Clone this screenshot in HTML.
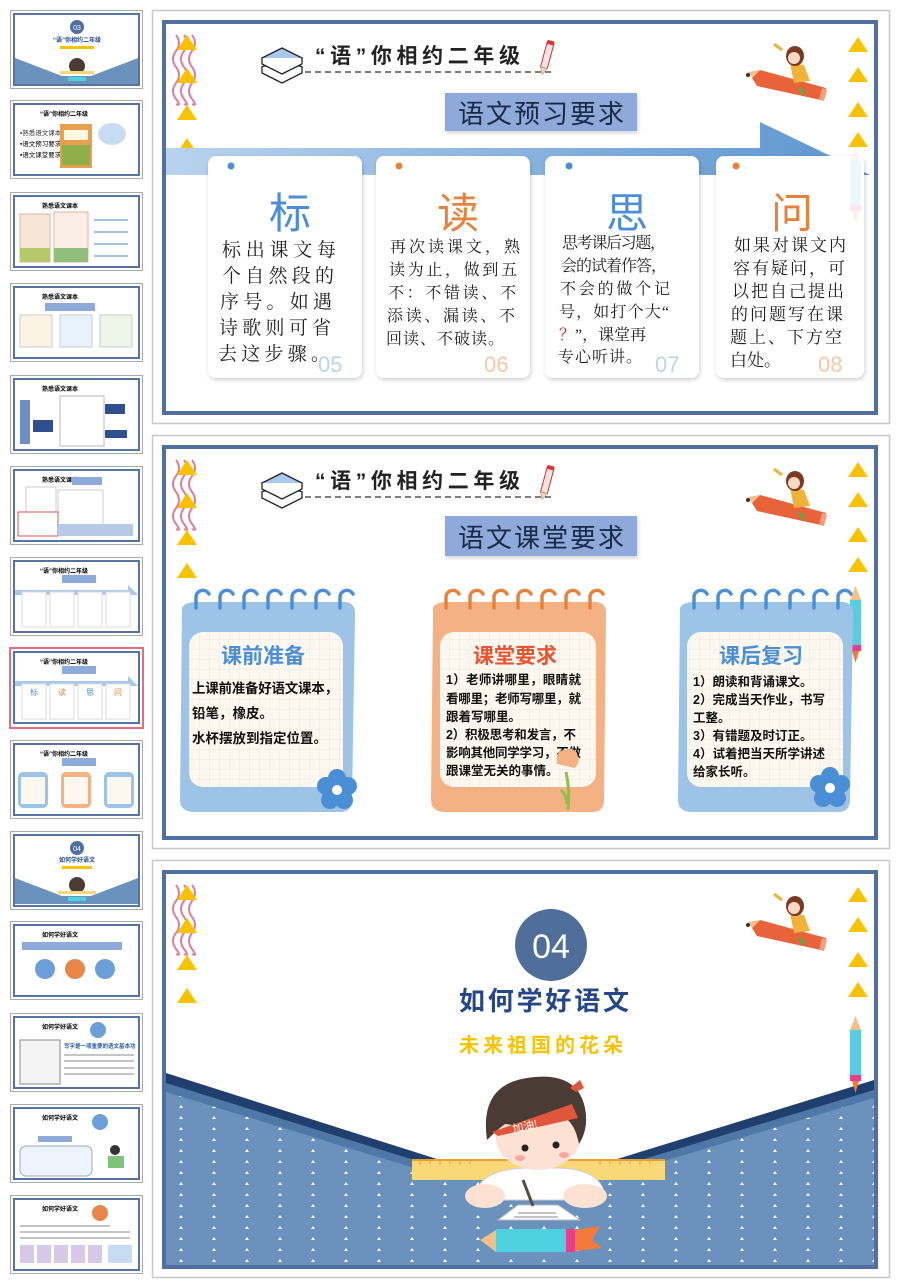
<!DOCTYPE html>
<html><head><meta charset="utf-8"><style>
html,body{margin:0;padding:0;background:#fff;}
svg{display:block;}
.kt{font-family:"Liberation Serif","Noto Serif CJK SC",serif;}
.hs{font-family:"Liberation Sans","Noto Sans CJK SC",sans-serif;}
</style></head><body>
<svg width="900" height="1286" viewBox="0 0 900 1286" xmlns="http://www.w3.org/2000/svg">
<defs>
  <linearGradient id="arr" x1="0" x2="1" y1="0" y2="0">
    <stop offset="0" stop-color="#b9d3ee"/><stop offset="1" stop-color="#5b95cf"/>
  </linearGradient>
  <pattern id="grid" width="10" height="10" patternUnits="userSpaceOnUse">
    <rect width="10" height="10" fill="#fdf8ef"/>
    <path d="M10 0V10M0 10H10" stroke="#f3dede" stroke-width="0.8"/>
  </pattern>
  <pattern id="dots" width="33" height="11" patternUnits="userSpaceOnUse">
    <rect width="33" height="11" fill="#6a92bd"/>
    <path d="M14 8l2-3 2 3z" fill="#fff"/>
  </pattern>
  <filter id="sh" x="-10%" y="-10%" width="120%" height="120%"><feDropShadow dx="1" dy="2" stdDeviation="2" flood-color="#000" flood-opacity="0.18"/></filter>
  <g id="tri"><path d="M0 15L10 0L20 15Z" fill="#f8c200"/></g>
  <g id="wavy" fill="none" stroke="#e17c9a" stroke-width="2">
    <path d="M176 35q6 8 0 16t0 16 0 16 0 16 0 5"/>
    <path d="M184 35q6 8 0 16t0 16 0 16 0 16 0 5"/>
    <path d="M192 35q6 8 0 16t0 16 0 16 0 16 0 5"/>
  </g>
  <g id="girl">
    <path d="M752 78l8-8 66 18-5 12-64-14z" fill="#e8623a"/>
    <path d="M752 78l8-8-12 2z" fill="#f2c08a"/>
    <circle cx="748" cy="75" r="2" fill="#333"/>
    <path d="M822 88l5 2-3 11-5-1z" fill="#f3a07a"/>
    <path d="M790 63l14 2 6 16-16 2z" fill="#f0b23a"/>
    <ellipse cx="795" cy="56" rx="9" ry="10" fill="#7a3b22"/>
    <circle cx="794" cy="58" r="6" fill="#fbd9c2"/>
    <path d="M782 50l-8-6" stroke="#f0b23a" stroke-width="3"/>
    <path d="M800 88l4 6" stroke="#4caf50" stroke-width="3"/>
  </g>
  <g id="header">
    <use href="#wavy"/>
    <use href="#tri" x="177" y="35"/><use href="#tri" x="177" y="68"/><use href="#tri" x="177" y="105"/><use href="#tri" x="177" y="138"/>
    <use href="#tri" x="848" y="37"/><use href="#tri" x="848" y="67"/><use href="#tri" x="848" y="102"/><use href="#tri" x="848" y="132"/>
    <g stroke="#222" stroke-width="1.3">
      <path d="M262 67l20-10 20 10-20 10z" fill="#5fc8e8"/>
      <path d="M262 67v6l20 10 20-10v-6" fill="#fff"/>
      <path d="M262 58l20-10 20 10-20 10z" fill="#a9c8f0"/>
      <path d="M262 58v6l20 10 20-10v-6" fill="#fff"/>
    </g>
    <path d="M305 72H552" stroke="#555" stroke-width="1.5" stroke-dasharray="6 4"/>
    <text x="315" y="63" class="hs" font-size="21" font-weight="bold" fill="#222" textLength="205">“语”你相约二年级</text>
    <g transform="rotate(15 546 58)"><rect x="543" y="42" width="7" height="26" fill="#fde2e2" stroke="#c33" stroke-width="1"/><path d="M543 68l3.5 7 3.5-7z" fill="#f5d5a0" stroke="#999" stroke-width="0.6"/><rect x="543" y="40" width="7" height="4" fill="#d33"/></g>
    <use href="#girl"/>
  </g>
  <g id="frame">
    <rect x="152.5" y="10.5" width="737" height="413" fill="#fff" stroke="#c8c8c8" stroke-width="1.5"/>
    <rect x="164" y="22" width="712" height="391" fill="#fff" stroke="#4f6fa0" stroke-width="4"/>
  </g>
  <g id="rpencil">
    <rect x="850" y="160" width="11" height="50" fill="#5ccbe0"/>
    <path d="M850 160l5.5-14 5.5 14z" fill="#f2c08a"/>
    <rect x="850" y="205" width="11" height="6" fill="#e83e8c"/>
    <path d="M852 211l3.5 12 3.5-12z" fill="#f47a3a"/>
  </g>
</defs>

<!-- ========== THUMBNAILS ========== -->
<g id="thumbs">
  <g>
    <rect x="10.5" y="10.5" width="132" height="78" fill="#fff" stroke="#aaa"/>
    <rect x="14" y="14" width="125" height="71" fill="#fff" stroke="#5574a4" stroke-width="2"/>
    <path d="M15 58L62 76H91L138 58V84H15Z" fill="#6a92bd"/>
    <circle cx="77" cy="27" r="7" fill="#4f6fa0"/><text x="77" y="30" font-size="7" text-anchor="middle" fill="#fff" class="hs">03</text>
    <text x="77" y="42" font-size="6" text-anchor="middle" fill="#2a4a8a" class="hs" font-weight="bold">“语”你相约二年级</text>
    <rect x="60" y="46" width="34" height="3" fill="#f7c300"/>
    <circle cx="77" cy="66" r="8" fill="#4a3b35"/><rect x="60" y="71" width="34" height="3" fill="#f8d77a"/><rect x="68" y="77" width="18" height="4" fill="#4fd0e0"/>
  </g>
  <g>
    <rect x="10.5" y="100.5" width="132" height="78" fill="#fff" stroke="#aaa"/>
    <rect x="14" y="104" width="125" height="71" fill="#fff" stroke="#5574a4" stroke-width="2"/>
    <text x="40" y="116" font-size="6" class="hs" font-weight="bold">“语”你相约二年级</text>
    <g class="hs" font-size="6.5"><text x="20" y="135" fill="#333">▪熟悉语文课本</text><text x="20" y="146">▪语文预习要求</text><text x="20" y="157">▪语文课堂要求</text></g>
    <rect x="60" y="124" width="32" height="44" fill="#e7a050"/><rect x="64" y="130" width="24" height="10" fill="#fff8e0"/><rect x="62" y="145" width="28" height="20" fill="#8db04a"/>
    <ellipse cx="112" cy="134" rx="14" ry="11" fill="#c5dcf2"/>
  </g>
  <g>
    <rect x="10.5" y="192.5" width="132" height="78" fill="#fff" stroke="#aaa"/>
    <rect x="14" y="196" width="125" height="71" fill="#fff" stroke="#5574a4" stroke-width="2"/>
    <text x="42" y="208" font-size="6" class="hs" font-weight="bold">熟悉语文课本</text>
    <rect x="20" y="214" width="30" height="48" fill="#f6e6d6" stroke="#e0b0a0"/><rect x="54" y="212" width="34" height="50" fill="#fbeee6" stroke="#e0b0a0"/>
    <rect x="20" y="248" width="30" height="14" fill="#b5c86a"/><rect x="54" y="248" width="34" height="14" fill="#8fbf7a"/>
    <g stroke="#4f7fc0"><path d="M94 220h34M94 232h34M94 244h34M94 256h34"/></g>
  </g>
  <g>
    <rect x="10.5" y="283.5" width="132" height="78" fill="#fff" stroke="#aaa"/>
    <rect x="14" y="287" width="125" height="71" fill="#fff" stroke="#5574a4" stroke-width="2"/>
    <text x="42" y="299" font-size="6" class="hs" font-weight="bold">熟悉语文课本</text>
    <rect x="45" y="303" width="50" height="8" fill="#8eaadb"/>
    <rect x="20" y="315" width="32" height="32" fill="#fbf3e4" stroke="#ccc"/><rect x="60" y="315" width="32" height="32" fill="#e8f2fb" stroke="#ccc"/><rect x="100" y="315" width="32" height="32" fill="#eef6ea" stroke="#ccc"/>
  </g>
  <g>
    <rect x="10.5" y="375.5" width="132" height="78" fill="#fff" stroke="#aaa"/>
    <rect x="14" y="379" width="125" height="71" fill="#fff" stroke="#5574a4" stroke-width="2"/>
    <text x="42" y="391" font-size="6" class="hs" font-weight="bold">熟悉语文课本</text>
    <rect x="20" y="400" width="10" height="44" fill="#6e8fc4"/>
    <rect x="60" y="396" width="44" height="50" fill="#fff" stroke="#bbb"/>
    <rect x="33" y="420" width="20" height="12" fill="#2f4f8f"/><rect x="105" y="404" width="20" height="10" fill="#2f4f8f"/><rect x="105" y="430" width="22" height="8" fill="#2f4f8f"/>
  </g>
  <g>
    <rect x="10.5" y="466.5" width="132" height="78" fill="#fff" stroke="#aaa"/>
    <rect x="14" y="470" width="125" height="71" fill="#fff" stroke="#5574a4" stroke-width="2"/>
    <text x="42" y="482" font-size="6" class="hs" font-weight="bold">熟悉语文课本</text>
    <rect x="72" y="477" width="30" height="8" fill="#8eaadb"/>
    <rect x="26" y="487" width="30" height="44" fill="#fff" stroke="#ccc"/><rect x="58" y="490" width="45" height="36" fill="#fff" stroke="#ccc"/>
    <rect x="18" y="512" width="40" height="24" fill="#fff" stroke="#d55"/><rect x="58" y="524" width="75" height="12" fill="#b7c9e6"/>
  </g>
  <g>
    <rect x="10.5" y="557.5" width="132" height="78" fill="#fff" stroke="#aaa"/>
    <rect x="14" y="561" width="125" height="71" fill="#fff" stroke="#5574a4" stroke-width="2"/>
    <text x="40" y="573" font-size="6" class="hs" font-weight="bold">“语”你相约二年级</text>
    <rect x="62" y="575" width="34" height="8" fill="#8eaadb"/>
    <path d="M15 590H128V585L138 595H15Z" fill="#a9c8ea"/>
    <g fill="#fff" stroke="#ddd"><rect x="22" y="592" width="24" height="35"/><rect x="50" y="592" width="24" height="35"/><rect x="78" y="592" width="24" height="35"/><rect x="106" y="592" width="24" height="35"/></g>
  </g>
  <g>
    <rect x="10" y="648" width="133" height="80" fill="#fff" stroke="#e0707a" stroke-width="2"/>
    <rect x="14" y="652" width="125" height="71" fill="#fff" stroke="#5574a4" stroke-width="2"/>
    <text x="40" y="664" font-size="6" class="hs" font-weight="bold">“语”你相约二年级</text>
    <rect x="62" y="666" width="34" height="8" fill="#8eaadb"/>
    <path d="M15 681H128V676L138 686H15Z" fill="#a9c8ea"/>
    <g fill="#fff" stroke="#ddd"><rect x="22" y="684" width="24" height="35"/><rect x="50" y="684" width="24" height="35"/><rect x="78" y="684" width="24" height="35"/><rect x="106" y="684" width="24" height="35"/></g>
    <g font-size="8" class="hs" text-anchor="middle"><text x="34" y="695" fill="#4a8fd6">标</text><text x="62" y="695" fill="#e8823a">读</text><text x="90" y="695" fill="#4a8fd6">思</text><text x="118" y="695" fill="#e8823a">问</text></g>
  </g>
  <g>
    <rect x="10.5" y="740.5" width="132" height="78" fill="#fff" stroke="#aaa"/>
    <rect x="14" y="744" width="125" height="71" fill="#fff" stroke="#5574a4" stroke-width="2"/>
    <text x="40" y="756" font-size="6" class="hs" font-weight="bold">“语”你相约二年级</text>
    <rect x="62" y="758" width="34" height="8" fill="#8eaadb"/>
    <rect x="18" y="772" width="30" height="36" rx="5" fill="#9dc3e6"/><rect x="61" y="772" width="30" height="36" rx="5" fill="#f4b183"/><rect x="104" y="772" width="30" height="36" rx="5" fill="#9dc3e6"/>
    <rect x="21" y="777" width="24" height="27" fill="#fdf8ef"/><rect x="64" y="777" width="24" height="27" fill="#fdf8ef"/><rect x="107" y="777" width="24" height="27" fill="#fdf8ef"/>
  </g>
  <g>
    <rect x="10.5" y="831.5" width="132" height="78" fill="#fff" stroke="#aaa"/>
    <rect x="14" y="835" width="125" height="71" fill="#fff" stroke="#5574a4" stroke-width="2"/>
    <path d="M15 878L62 896H91L138 878V904H15Z" fill="#6a92bd"/>
    <circle cx="77" cy="848" r="7" fill="#4f6fa0"/><text x="77" y="851" font-size="7" text-anchor="middle" fill="#fff" class="hs">04</text>
    <text x="77" y="862" font-size="6" text-anchor="middle" fill="#2a4a8a" class="hs" font-weight="bold">如何学好语文</text>
    <rect x="62" y="866" width="30" height="3" fill="#f7c300"/>
    <circle cx="77" cy="885" r="8" fill="#4a3b35"/><rect x="58" y="891" width="38" height="3" fill="#f8d77a"/><rect x="68" y="897" width="18" height="4" fill="#4fd0e0"/>
  </g>
  <g>
    <rect x="10.5" y="921.5" width="132" height="78" fill="#fff" stroke="#aaa"/>
    <rect x="14" y="925" width="125" height="71" fill="#fff" stroke="#5574a4" stroke-width="2"/>
    <text x="42" y="937" font-size="6" class="hs" font-weight="bold">如何学好语文</text>
    <rect x="22" y="942" width="100" height="8" fill="#8eaadb"/>
    <circle cx="45" cy="969" r="10" fill="#6a9fd8"/><circle cx="75" cy="969" r="10" fill="#e8864a"/><circle cx="105" cy="969" r="10" fill="#6a9fd8"/>
  </g>
  <g>
    <rect x="10.5" y="1013.5" width="132" height="78" fill="#fff" stroke="#aaa"/>
    <rect x="14" y="1017" width="125" height="71" fill="#fff" stroke="#5574a4" stroke-width="2"/>
    <text x="42" y="1029" font-size="6" class="hs" font-weight="bold">如何学好语文</text>
    <rect x="20" y="1040" width="40" height="44" fill="#f4f4f4" stroke="#888"/>
    <circle cx="98" cy="1030" r="8" fill="#6a9fd8"/>
    <text x="64" y="1048" font-size="5.5" class="hs" fill="#2a5aa0" font-weight="bold">写字是一项重要的语文基本功</text>
    <g stroke="#888"><path d="M64 1055h70M64 1061h70M64 1068h70M64 1074h70"/></g>
  </g>
  <g>
    <rect x="10.5" y="1104.5" width="132" height="78" fill="#fff" stroke="#aaa"/>
    <rect x="14" y="1108" width="125" height="71" fill="#fff" stroke="#5574a4" stroke-width="2"/>
    <text x="42" y="1120" font-size="6" class="hs" font-weight="bold">如何学好语文</text>
    <circle cx="100" cy="1122" r="8" fill="#6a9fd8"/>
    <rect x="38" y="1136" width="34" height="6" fill="#8eaadb"/>
    <rect x="20" y="1146" width="72" height="30" rx="6" fill="#eef4fb" stroke="#9ab"/>
    <circle cx="115" cy="1150" r="5" fill="#333"/><rect x="108" y="1156" width="16" height="12" fill="#7cc47c"/>
  </g>
  <g>
    <rect x="10.5" y="1195.5" width="132" height="78" fill="#fff" stroke="#aaa"/>
    <rect x="14" y="1199" width="125" height="71" fill="#fff" stroke="#5574a4" stroke-width="2"/>
    <text x="42" y="1211" font-size="6" class="hs" font-weight="bold">如何学好语文</text>
    <circle cx="100" cy="1213" r="8" fill="#e8864a"/>
    <g stroke="#888"><path d="M20 1226h90M20 1232h110M20 1238h110"/></g>
    <g fill="#d8c8e8"><rect x="20" y="1245" width="14" height="18"/><rect x="37" y="1245" width="14" height="18"/><rect x="54" y="1245" width="14" height="18"/><rect x="71" y="1245" width="14" height="18"/><rect x="88" y="1245" width="14" height="18"/></g>
    <rect x="108" y="1245" width="24" height="18" fill="#c5dcf2"/>
  </g>
</g>

<!-- ========== SLIDE 1 ========== -->
<use href="#frame"/>
<use href="#header"/>
<rect x="445" y="93" width="192" height="38" fill="#8eaadb" filter="url(#sh)"/>
<text x="541" y="123" text-anchor="middle" class="hs" font-size="26" fill="#1a2a44" textLength="166">语文预习要求</text>
<path d="M166 148H760V122L870 175H166Z" fill="url(#arr)"/>

<g filter="url(#sh)" fill="#fff">
  <rect x="208" y="156" width="154" height="222" rx="8"/>
  <rect x="376" y="156" width="154" height="222" rx="8"/>
  <rect x="545" y="156" width="154" height="222" rx="8"/>
  <rect x="716" y="156" width="148" height="222" rx="8"/>
</g>
<circle cx="231" cy="166" r="3.5" fill="#4a8fd6"/>
<circle cx="399" cy="166" r="3.5" fill="#e8823a"/>
<circle cx="569" cy="166" r="3.5" fill="#4a8fd6"/>
<circle cx="736" cy="166" r="3.5" fill="#e8823a"/>
<g class="hs" font-size="42" text-anchor="middle">
  <text x="290" y="228" fill="#4a8fd6">标</text>
  <text x="458" y="228" fill="#e8823a">读</text>
  <text x="627" y="228" fill="#4a8fd6">思</text>
  <text x="792" y="228" fill="#e8823a">问</text>
</g>
<g class="kt" font-size="19" fill="#222">
  <text x="222" y="256" textLength="114">标出课文每</text>
  <text x="222" y="282" textLength="112">个自然段的</text>
  <text x="220" y="308" textLength="112">序号。如遇</text>
  <text x="219" y="334" textLength="112">诗歌则可省</text>
  <text x="218" y="360" textLength="112">去这步骤。</text>
</g>
<g class="kt" font-size="16" fill="#222">
  <text x="390" y="252" textLength="130">再次读课文，熟</text>
  <text x="389" y="275" textLength="128">读为止，做到五</text>
  <text x="388" y="298" textLength="128">不：不错读、不</text>
  <text x="387" y="321" textLength="128">添读、漏读、不</text>
  <text x="386" y="344" textLength="118">回读、不破读。</text>
</g>
<g class="kt" font-size="16" fill="#222">
  <text x="562" y="248" textLength="104">思考课后习题，</text>
  <text x="561" y="271" textLength="106">会的试着作答，</text>
  <text x="560" y="294" textLength="110">不会的做个记</text>
  <text x="559" y="317" textLength="110">号，如打个大“</text>
  <text x="559" y="340"><tspan fill="#e02020">？</tspan>”，课堂再</text>
  <text x="558" y="362" textLength="84">专心听讲。</text>
</g>
<g class="kt" font-size="17" fill="#222">
  <text x="734" y="251" textLength="112">如果对课文内</text>
  <text x="733" y="274" textLength="112">容有疑问，可</text>
  <text x="732" y="297" textLength="112">以把自己提出</text>
  <text x="731" y="320" textLength="112">的问题写在课</text>
  <text x="730" y="343" textLength="112">题上、下方空</text>
  <text x="730" y="366">白处。</text>
</g>
<g class="hs" font-size="22">
  <text x="318" y="372" fill="#b8d4f0">05</text>
  <text x="484" y="372" fill="#f6c7a6">06</text>
  <text x="655" y="372" fill="#b8d4f0">07</text>
  <text x="818" y="372" fill="#f6c7a6">08</text>
</g>
<use href="#rpencil" y="0" opacity="0.12"/>

<!-- ========== SLIDE 2 ========== -->
<use href="#frame" y="425"/>
<use href="#header" y="425"/>
<rect x="445" y="516" width="192" height="40" fill="#8eaadb" filter="url(#sh)"/>
<text x="541" y="547" text-anchor="middle" class="hs" font-size="26" fill="#1a2a44" textLength="166">语文课堂要求</text>
<use href="#rpencil" y="440"/>

<g>
  <path d="M182 612Q180 603 195 602H345Q356 603 355 615L352 800Q352 812 340 812H195Q180 812 180 800Z" fill="#9dc3e6"/>
  <rect x="189" y="632" width="154" height="155" rx="14" fill="url(#grid)"/>
  <g fill="none" stroke="#4a8fd6" stroke-width="3.5" stroke-linecap="round">
    <path d="M196 608v-12a7 7 0 0 1 13 -2"/><path d="M220 608v-12a7 7 0 0 1 13 -2"/><path d="M244 608v-12a7 7 0 0 1 13 -2"/><path d="M268 608v-12a7 7 0 0 1 13 -2"/><path d="M292 608v-12a7 7 0 0 1 13 -2"/><path d="M316 608v-12a7 7 0 0 1 13 -2"/><path d="M340 608v-12a7 7 0 0 1 13 -2"/>
  </g>
  <text x="263" y="663" text-anchor="middle" class="hs" font-size="21" font-weight="bold" fill="#4a8fd6">课前准备</text>
  <g class="hs" font-size="13.5" font-weight="bold" fill="#111">
    <text x="192" y="693" textLength="146">上课前准备好语文课本，</text>
    <text x="192" y="718">铅笔，橡皮。</text>
    <text x="192" y="743">水杯摆放到指定位置。</text>
  </g>
  <g fill="#4a8fd6" transform="translate(337 790)">
    <circle cx="0" cy="-12" r="9"/><circle cx="11" cy="-4" r="9"/><circle cx="7" cy="10" r="9"/><circle cx="-7" cy="10" r="9"/><circle cx="-11" cy="-4" r="9"/>
    <circle r="5" fill="#fff"/>
  </g>
</g>
<g>
  <path d="M433 612Q431 603 446 602H596Q607 603 606 615L604 800Q604 812 592 812H446Q431 812 431 800Z" fill="#f4b183"/>
  <rect x="440" y="632" width="156" height="155" rx="14" fill="url(#grid)"/>
  <g fill="none" stroke="#e8823a" stroke-width="3.5" stroke-linecap="round">
    <path d="M446 608v-12a7 7 0 0 1 13 -2"/><path d="M470 608v-12a7 7 0 0 1 13 -2"/><path d="M494 608v-12a7 7 0 0 1 13 -2"/><path d="M518 608v-12a7 7 0 0 1 13 -2"/><path d="M542 608v-12a7 7 0 0 1 13 -2"/><path d="M566 608v-12a7 7 0 0 1 13 -2"/><path d="M590 608v-12a7 7 0 0 1 13 -2"/>
  </g>
  <text x="515" y="663" text-anchor="middle" class="hs" font-size="21" font-weight="bold" fill="#e8552e">课堂要求</text>
  <g class="hs" font-size="12.5" font-weight="bold" fill="#111">
    <text x="446" y="684" textLength="135">1）老师讲哪里，眼睛就</text>
    <text x="446" y="703" textLength="135">看哪里；老师写哪里，就</text>
    <text x="446" y="721">跟着写哪里。</text>
    <text x="446" y="739" textLength="130">2）积极思考和发言，不</text>
    <text x="446" y="757" textLength="135">影响其他同学学习，不做</text>
    <text x="446" y="775">跟课堂无关的事情。</text>
  </g>
  <path d="M568 810q2-20 -2-38" stroke="#8bc34a" stroke-width="3" fill="none"/>
  <path d="M561 790q6 6 6 14" stroke="#8bc34a" stroke-width="3" fill="none"/>
  <path d="M557 764q-2-14 8-14 8 -4 12 4 4 8-2 14z" fill="#f4b183"/>
</g>
<g>
  <path d="M680 612Q678 603 693 602H843Q854 603 853 615L850 800Q850 812 838 812H693Q678 812 678 800Z" fill="#9dc3e6"/>
  <rect x="687" y="632" width="156" height="155" rx="14" fill="url(#grid)"/>
  <g fill="none" stroke="#4a8fd6" stroke-width="3.5" stroke-linecap="round">
    <path d="M694 608v-12a7 7 0 0 1 13 -2"/><path d="M718 608v-12a7 7 0 0 1 13 -2"/><path d="M742 608v-12a7 7 0 0 1 13 -2"/><path d="M766 608v-12a7 7 0 0 1 13 -2"/><path d="M790 608v-12a7 7 0 0 1 13 -2"/><path d="M814 608v-12a7 7 0 0 1 13 -2"/><path d="M838 608v-12a7 7 0 0 1 13 -2"/>
  </g>
  <text x="761" y="663" text-anchor="middle" class="hs" font-size="21" font-weight="bold" fill="#4a8fd6">课后复习</text>
  <g class="hs" font-size="12.5" font-weight="bold" fill="#111">
    <text x="693" y="686">1）朗读和背诵课文。</text>
    <text x="693" y="704" textLength="132">2）完成当天作业，书写</text>
    <text x="693" y="722">工整。</text>
    <text x="693" y="740">3）有错题及时订正。</text>
    <text x="693" y="758" textLength="132">4）试着把当天所学讲述</text>
    <text x="693" y="776">给家长听。</text>
  </g>
  <g fill="#4a8fd6" transform="translate(830 788)">
    <circle cx="0" cy="-12" r="9"/><circle cx="11" cy="-4" r="9"/><circle cx="7" cy="10" r="9"/><circle cx="-7" cy="10" r="9"/><circle cx="-11" cy="-4" r="9"/>
    <circle r="5" fill="#fff"/>
  </g>
</g>

<!-- ========== SLIDE 3 ========== -->
<rect x="152.5" y="860.5" width="737" height="417" fill="#fff" stroke="#c8c8c8" stroke-width="1.5"/>
<rect x="164" y="872" width="712" height="395" fill="#fff" stroke="#4f6fa0" stroke-width="4"/>
<path d="M166 1073L440 1160H614L874 1080V1265H166Z" fill="#1f3f6e"/>
<path d="M166 1083L440 1168H614L874 1090V1265H166Z" fill="#4f78a8"/>
<path d="M166 1092L440 1176H614L874 1098V1265H166Z" fill="url(#dots)"/>
<use href="#wavy" y="850"/>
<use href="#tri" x="177" y="885"/><use href="#tri" x="177" y="918"/><use href="#tri" x="177" y="955"/><use href="#tri" x="177" y="988"/>
<use href="#tri" x="848" y="887"/><use href="#tri" x="848" y="917"/><use href="#tri" x="848" y="952"/><use href="#tri" x="848" y="982"/>
<use href="#girl" y="850"/>
<use href="#rpencil" y="870"/>
<circle cx="551" cy="945" r="36" fill="#506e9a"/>
<text x="551" y="958" text-anchor="middle" class="hs" font-size="34" fill="#fff">04</text>
<text x="459" y="1010" class="hs" font-size="26" font-weight="bold" fill="#24478a" textLength="170">如何学好语文</text>
<text x="459" y="1052" class="hs" font-size="20" font-weight="bold" fill="#f7c300" textLength="164">未来祖国的花朵</text>

<rect x="412" y="1160" width="253" height="20" fill="#fbd877"/>
<path d="M412 1160h253" stroke="#e8a030" stroke-width="2"/>
<g stroke="#e8a030" stroke-width="1"><path d="M420 1160v5M430 1160v4M440 1160v5M450 1160v4M460 1160v5M470 1160v4M600 1160v5M610 1160v4M620 1160v5M630 1160v4M640 1160v5M650 1160v4"/></g>
<path d="M475 1200q0-30 50-32h35q45 2 45 32z" fill="#fff" stroke="#ccd" />
<ellipse cx="538" cy="1138" rx="42" ry="32" fill="#fde2d4"/>
<path d="M487 1140q-8-55 40-62 50-8 58 30 4 20-6 36-4-20-14-26-20 12-60 6-8 6-18 16z" fill="#4a3b35"/>
<path d="M492 1132l80-28 6 14-80 18z" fill="#e0563a"/>
<text x="512" y="1130" font-size="11" fill="#fff" class="hs" transform="rotate(-14 525 1125)">加油!</text>
<path d="M570 1088l10-8 4 8-8 4z" fill="#e0563a"/>
<circle cx="525" cy="1148" r="3.5" fill="#222"/><circle cx="556" cy="1145" r="3.5" fill="#222"/>
<ellipse cx="520" cy="1158" rx="5" ry="3" fill="#f7a7a0"/><ellipse cx="564" cy="1155" rx="5" ry="3" fill="#f7a7a0"/>
<ellipse cx="485" cy="1196" rx="20" ry="12" fill="#fde2d4"/><ellipse cx="585" cy="1196" rx="22" ry="12" fill="#fde2d4"/>
<path d="M498 1220l20-15h40l22 15z" fill="#fff" stroke="#bbb"/>
<path d="M518 1213h38M514 1217h44" stroke="#888"/>
<path d="M523 1180l10 26" stroke="#5a4a40" stroke-width="3"/>
<path d="M480 1240l16-10v22z" fill="#f2c08a"/>
<rect x="496" y="1229" width="73" height="23" fill="#4fd0e0"/>
<rect x="566" y="1229" width="9" height="23" fill="#e83e8c"/>
<path d="M575 1230l25-4 -8 14 10 8-27 3z" fill="#f47a3a"/>
</svg>
</body></html>
